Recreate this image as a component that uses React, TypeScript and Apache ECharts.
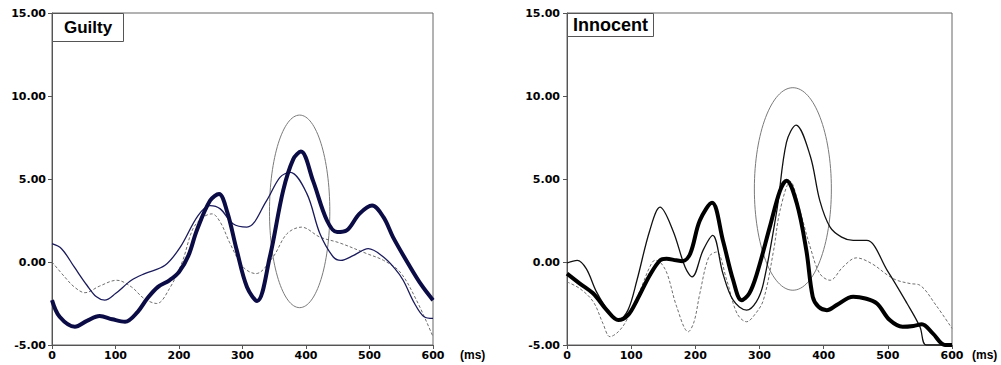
import React, { useEffect, useRef } from "react";
import * as echarts from "echarts";

// ---- Data (ms, µV) ----
const xTicks = [0, 100, 200, 300, 400, 500, 600];
const yTicks = [-5, 0, 5, 10, 15];

const guiltyThick: [number, number][] = [
  [0, -2.3], [12, -3.3], [36, -3.9], [55, -3.55], [75, -3.25], [95, -3.45], [115, -3.6],
  [135, -3.0], [150, -2.2], [167, -1.5], [185, -1.1], [200, -0.6], [215, 0.4], [228, 1.9],
  [249, 3.7], [263, 4.1], [276, 3.0], [291, 0.7], [307, -1.5], [323, -2.35], [343, 0.3],
  [364, 4.3], [380, 6.2], [392, 6.65], [411, 4.9], [433, 2.5], [449, 1.8], [464, 1.9],
  [484, 2.9], [504, 3.4], [522, 2.7], [537, 1.5], [564, -0.3], [582, -1.4], [600, -2.3],
];
const guiltyThin: [number, number][] = [
  [0, 1.1], [15, 0.8], [35, -0.3], [55, -1.4], [70, -2.1], [83, -2.3], [100, -1.9],
  [125, -1.1], [146, -0.7], [178, -0.2], [202, 0.9], [230, 2.8], [249, 3.4], [265, 3.2],
  [285, 2.3], [307, 2.1], [338, 3.7], [359, 5.1], [375, 5.4], [401, 4.15], [422, 1.7],
  [443, 0.3], [455, 0.1], [475, 0.4], [498, 0.8], [522, 0.3], [540, -0.4], [553, -1.1],
  [571, -2.5], [586, -3.3], [600, -3.4],
];
const guiltyDashed: [number, number][] = [
  [0, 0], [20, -0.9], [35, -1.5], [52, -1.85], [75, -1.45], [102, -1.1], [125, -1.5],
  [145, -2.2], [165, -2.5], [185, -1.6], [205, 0], [222, 2.0], [238, 2.7], [252, 2.9],
  [265, 2.4], [280, 1.15], [301, -0.3], [321, -0.7], [348, 0.3], [370, 1.7], [393, 2.1],
  [422, 1.5], [453, 1.15], [496, 0.5], [522, 0.1], [548, -0.6], [574, -2.3], [600, -4.5],
];
// ellipse: [centre ms, centre µV, half-width ms, half-height µV]
const guiltyEllipse = [[390, 3.05, 47.5, 5.8]];

const innocentThick: [number, number][] = [
  [0, -0.7], [20, -1.3], [41, -1.9], [62, -2.9], [80, -3.5], [95, -3.2], [109, -2.3],
  [129, -0.8], [145, 0.1], [155, 0.2], [170, 0.1], [180, 0.05], [192, 0.5], [207, 2.5],
  [226, 3.57], [243, 1.3], [259, -1.1], [272, -2.3], [284, -1.9], [296, -0.7], [316, 2.1],
  [332, 4.3], [342, 4.9], [358, 3.55], [373, 0.7], [383, -2.1], [392, -2.7], [405, -2.9],
  [420, -2.6], [446, -2.1], [465, -2.2], [483, -2.5], [503, -3.5], [523, -3.9], [540, -3.85],
  [553, -3.75], [570, -4.3], [589, -5], [600, -5],
];
const innocentThin: [number, number][] = [
  [0, -0.06], [16, 0.1], [30, -0.4], [46, -1.8], [67, -3.1], [80, -3.5], [95, -2.9],
  [109, -1.1], [129, 1.9], [145, 3.3], [165, 1.9], [184, -0.3], [195, -0.9], [212, 0.7],
  [227, 1.6], [243, -0.7], [259, -2.3], [280, -2.9], [295, -2.4], [306, -1.3], [327, 3.1],
  [342, 7.2], [357, 8.25], [379, 6.4], [394, 3.7], [410, 2.1], [428, 1.5], [446, 1.3],
  [467, 1.3], [499, -0.5], [530, -2.5], [550, -3.9], [560, -5], [600, -5],
];
const innocentDashed: [number, number][] = [
  [0, -1.2], [20, -1.6], [41, -2.4], [56, -3.7], [67, -4.5], [80, -4.2], [93, -3.5],
  [114, -1.7], [129, -0.3], [137, 0.1], [145, 0], [156, -0.7], [171, -2.7], [189, -4.2],
  [198, -3.6], [207, -1.9], [221, 0.3], [233, 0.6], [249, -1.1], [265, -3.1], [280, -3.6],
  [292, -3.2], [306, -2.3], [322, 0.7], [332, 3.1], [348, 4.85], [363, 3.1], [379, 0.9],
  [394, -0.7], [410, -1.1], [430, -0.3], [451, 0.25], [475, -0.1], [500, -0.8], [514, -1.1],
  [535, -1.3], [550, -1.4], [575, -2.6], [600, -4.0],
];
const innocentEllipse = [[352, 4.4, 60, 6.1]];

const titles = ["Guilty", "Innocent"];

const LABEL_FONT = "DejaVu Sans";
const TITLE_FONT = "Liberation Sans, Arial, sans-serif";

function makeXAxis(gridIndex: number, nameGap: number) {
  return {
    type: "value",
    gridIndex,
    min: xTicks[0],
    max: xTicks[xTicks.length - 1],
    interval: 100,
    name: "(ms)",
    nameLocation: "end",
    nameGap,
    nameTextStyle: {
      fontFamily: TITLE_FONT,
      fontWeight: "bold",
      fontSize: 12,
      color: "#000",
      verticalAlign: "top",
      padding: [4, 0, 0, 0],
    },
    splitLine: { show: false },
    axisLine: { show: true, onZero: false, lineStyle: { color: "#555", width: 1 } },
    axisTick: { show: true, length: 4, lineStyle: { color: "#555" } },
    axisLabel: {
      margin: 5,
      fontFamily: LABEL_FONT,
      fontWeight: "bold",
      fontSize: 11,
      color: "#000",
    },
  };
}

function makeYAxis(gridIndex: number, margin: number) {
  return {
    type: "value",
    gridIndex,
    min: yTicks[0],
    max: yTicks[yTicks.length - 1],
    interval: 5,
    splitLine: { show: false },
    axisLine: { show: true, onZero: false, lineStyle: { color: "#555", width: 1 } },
    axisTick: { show: true, length: 4, lineStyle: { color: "#555" } },
    axisLabel: {
      margin,
      fontFamily: LABEL_FONT,
      fontWeight: "bold",
      fontSize: 11,
      color: "#000",
      formatter: (v: number) => v.toFixed(2),
    },
  };
}

function ellipseSeries(idx: number, data: number[][]) {
  return {
    type: "custom",
    xAxisIndex: idx,
    yAxisIndex: idx,
    data,
    z: 1,
    silent: true,
    renderItem: (_p: any, api: any) => {
      const c = api.coord([api.value(0), api.value(1)]);
      const s = api.size([api.value(2), api.value(3)]);
      return {
        type: "ellipse",
        shape: { cx: c[0], cy: c[1], rx: s[0], ry: s[1] },
        style: { fill: "none", stroke: "#7a7a7a", lineWidth: 1 },
      };
    },
  };
}

function lineSeries(idx: number, data: [number, number][], color: string, width: number, dashed = false) {
  return {
    type: "line",
    xAxisIndex: idx,
    yAxisIndex: idx,
    data,
    smooth: 0.35,
    showSymbol: false,
    symbol: "none",
    z: 3,
    lineStyle: { color, width, type: dashed ? [3, 2] : "solid" },
  };
}

export default function App() {
  const ref = useRef<HTMLDivElement>(null);
  useEffect(() => {
    if (!ref.current) return;
    const chart = echarts.init(ref.current, null, { renderer: "svg" });
    chart.setOption({
      animation: false,
      backgroundColor: "#fff",
      title: [
        {
          text: titles[0],
          left: 52,
          top: 13,
          padding: [6, 12, 6, 12],
          borderColor: "#555",
          borderWidth: 1,
          backgroundColor: "#fff",
          textStyle: { fontFamily: TITLE_FONT, fontWeight: "bold", fontSize: 17, color: "#000" },
          z: 10,
        },
        {
          text: titles[1],
          left: 567,
          top: 13,
          padding: [3, 6, 3, 6],
          borderColor: "#555",
          borderWidth: 1,
          backgroundColor: "#fff",
          textStyle: { fontFamily: TITLE_FONT, fontWeight: "bold", fontSize: 18, color: "#000" },
          z: 10,
        },
      ],
      grid: [
        { left: 52, top: 13, width: 381, height: 332, show: true, borderColor: "#666", borderWidth: 1, backgroundColor: "transparent" },
        { left: 567, top: 13, width: 385, height: 332, show: true, borderColor: "#666", borderWidth: 1, backgroundColor: "transparent" },
      ],
      xAxis: [makeXAxis(0, 27), makeXAxis(1, 20)],
      yAxis: [makeYAxis(0, 6), makeYAxis(1, 7)],
      series: [
        ellipseSeries(0, guiltyEllipse),
        lineSeries(0, guiltyDashed, "#6e6e6e", 1, true),
        lineSeries(0, guiltyThin, "#1b1b5c", 1.3),
        lineSeries(0, guiltyThick, "#0b0b45", 4),
        ellipseSeries(1, innocentEllipse),
        lineSeries(1, innocentDashed, "#6e6e6e", 1, true),
        lineSeries(1, innocentThin, "#111", 1.3),
        lineSeries(1, innocentThick, "#000", 4),
      ],
    });
    return () => chart.dispose();
  }, []);
  return (
    <div style={{ position: "fixed", left: 0, top: 0, width: 1001, height: 365, background: "#fff" }}>
      <div ref={ref} style={{ width: 1001, height: 365 }} />
    </div>
  );
}
